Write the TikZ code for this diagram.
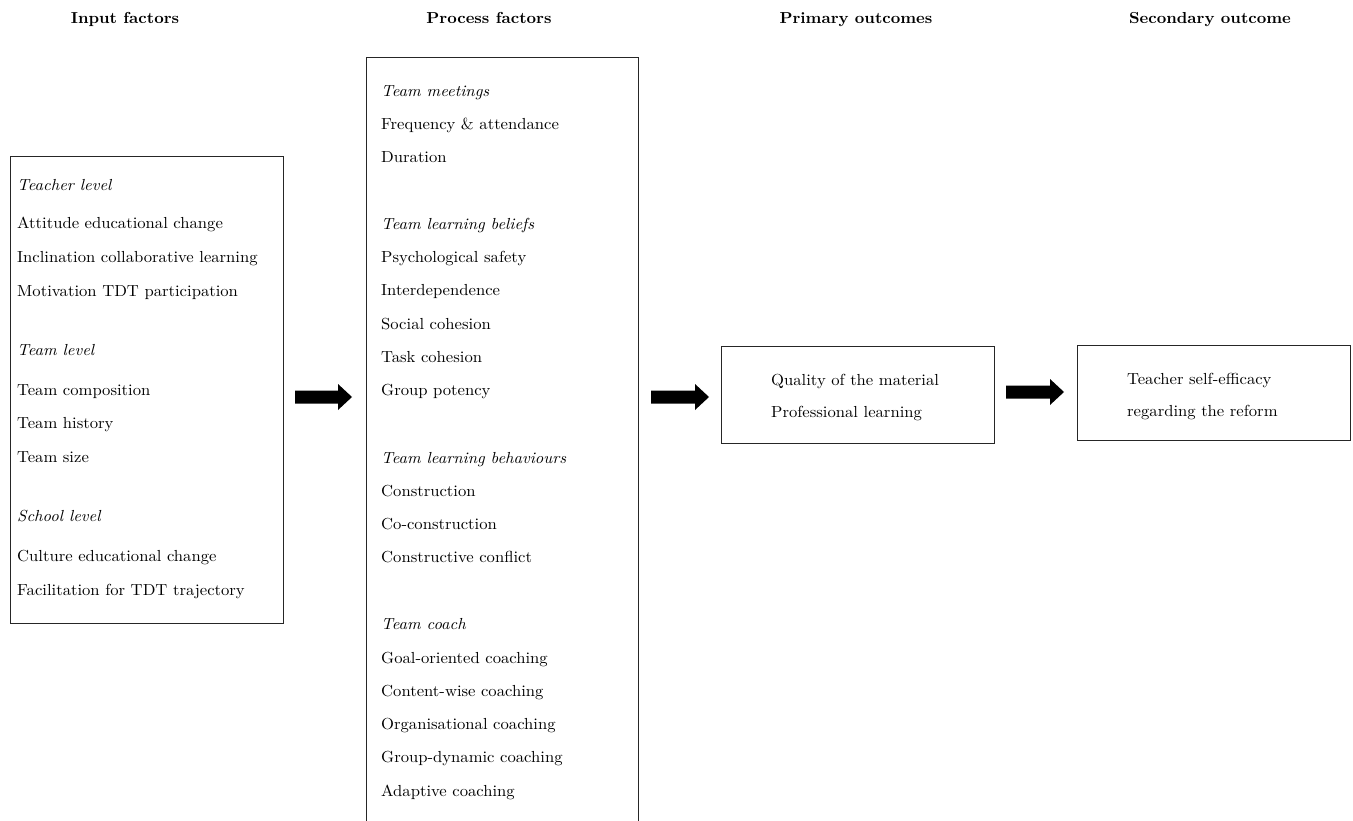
\documentclass[tikz,border=0pt]{standalone}
\usepackage{fontspec}
\setmainfont{lmroman10}[Extension=.otf, UprightFont=*-regular, BoldFont=*-bold, ItalicFont=*-italic, BoldItalicFont=*-bolditalic, FakeStretch=1.04]
\begin{document}
\begin{tikzpicture}[x=1pt,y=-1pt,
  box/.style={draw=black!85,line width=1.3pt,anchor=north west,inner sep=0pt},
  head/.style={font=\fontsize{15.9}{19}\selectfont\bfseries,anchor=mid,inner sep=0pt,yshift=-3pt},
  item/.style={font=\fontsize{16}{19}\selectfont,anchor=mid west,inner sep=0pt,yshift=-2.5pt},
  cat/.style={item,font=\fontsize{16}{19}\selectfont\itshape},
  blockarrow/.style={fill=black}]
\useasboundingbox (0,0) rectangle (1353,821);
\begin{scope}
\clip (0,0) rectangle (1353,821);
% headings
\node[head] (h1) at (125,18) {Input factors};
\node[head] (h2) at (489,18) {Process factors};
\node[head] (h3) at (856,18) {Primary outcomes};
\node[head] (h4) at (1210,18) {Secondary outcome};
% boxes
\node[box,minimum width=273pt,minimum height=467pt] (inbox) at (10,156) {};
\node[box,minimum width=272pt,minimum height=800pt] (procbox) at (366,57) {};
\node[box,minimum width=273pt,minimum height=97pt] (primbox) at (721,346) {};
\node[box,minimum width=273pt,minimum height=95pt] (secbox) at (1077,345) {};
% input items
\node[cat]  (i1)  at (17,186) {Teacher level};
\node[item] (i2)  at (17,224) {Attitude educational change};
\node[item] (i3)  at (17,258) {Inclination collaborative learning};
\node[item] (i4)  at (17,292) {Motivation TDT participation};
\node[cat]  (i5)  at (17,351) {Team level};
\node[item] (i6)  at (17,391) {Team composition};
\node[item] (i7)  at (17,424) {Team history};
\node[item] (i8)  at (17,458) {Team size};
\node[cat]  (i9)  at (17,517) {School level};
\node[item] (i10) at (17,557) {Culture educational change};
\node[item] (i11) at (17,591) {Facilitation for TDT trajectory};
% process items
\node[cat]  (p1)  at (381,92)  {Team meetings};
\node[item] (p2)  at (381,125) {Frequency \& attendance};
\node[item] (p3)  at (381,158) {Duration};
\node[cat]  (p4)  at (381,225) {Team learning beliefs};
\node[item] (p5)  at (381,258) {Psychological safety};
\node[item] (p6)  at (381,291) {Interdependence};
\node[item] (p7)  at (381,325) {Social cohesion};
\node[item] (p8)  at (381,358) {Task cohesion};
\node[item] (p9)  at (381,391) {Group potency};
\node[cat]  (p10) at (381,459) {Team learning behaviours};
\node[item] (p11) at (381,492) {Construction};
\node[item] (p12) at (381,525) {Co-construction};
\node[item] (p13) at (381,558) {Constructive conflict};
\node[cat]  (p14) at (381,625) {Team coach};
\node[item] (p15) at (381,659) {Goal-oriented coaching};
\node[item] (p16) at (381,692) {Content-wise coaching};
\node[item] (p17) at (381,725) {Organisational coaching};
\node[item] (p18) at (381,758) {Group-dynamic coaching};
\node[item] (p19) at (381,792) {Adaptive coaching};
% primary
\node[item] (o1) at (771,381) {Quality of the material};
\node[item] (o2) at (771,413) {Professional learning};
% secondary
\node[item] (s1) at (1127,380) {Teacher self-efficacy};
\node[item] (s2) at (1127,412) {regarding the reform};
% block arrows
\coordinate (a1) at (295,397);
\coordinate (a2) at (651,397);
\coordinate (a3) at (1006,392);
\foreach \c/\l in {a1/43,a2/44,a3/44}{
  \fill[blockarrow] (\c) ++(0,-6.5) -- ++(\l,0) -- ++(0,-6.5) -- ++(14,13)
    -- ++(-14,13) -- ++(0,-6.5) -- ++(-\l,0) -- cycle;
}
\end{scope}
\end{tikzpicture}
\end{document}
